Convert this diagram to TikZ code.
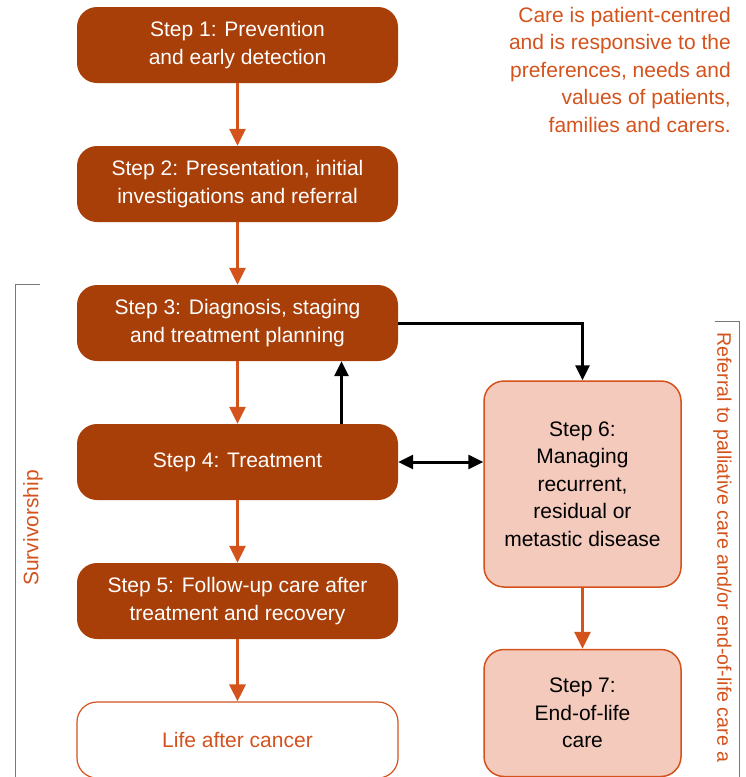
\documentclass[tikz,border=0pt]{standalone}
\usepackage{fontspec}
\setmainfont{Liberation Sans}
\usepackage{tikz}
\usetikzlibrary{arrows.meta}

\definecolor{stepdark}{RGB}{168,62,8}
\definecolor{careorange}{RGB}{212,82,28}
\definecolor{steplight}{RGB}{243,202,188}
\definecolor{bracketgray}{RGB}{120,120,120}

\tikzset{
    stepbox/.style={rounded corners=20pt, fill=stepdark, text=white, minimum width=321pt, minimum height=76pt, inner sep=0pt, align=center, font=\fontsize{21}{28}\selectfont},
    lifebox/.style={stepbox, fill=white, draw=careorange, line width=1.2pt, text=careorange},
    sidebox/.style={rounded corners=20pt, fill=steplight, draw=careorange, line width=1.5pt, minimum width=197pt, inner sep=0pt, align=center, font=\fontsize{21}{27.5}\selectfont},
    flow/.style={careorange, line width=3pt, -{Triangle[length=17pt, width=16pt]}},
    link/.style={black, line width=3pt, -{Triangle[length=15pt, width=14pt]}},
    sidenote/.style={text=careorange, font=\fontsize{21}{27.5}\selectfont, inner sep=0pt}
}

\begin{document}
\begin{tikzpicture}[x=1pt, y=-1pt]
    \useasboundingbox (0,0) rectangle (745,777);

    \node[stepbox] (s1) at (237.5,45) {Step 1: Prevention\\and early detection};
    
    \node[stepbox] (s2) at (237.5,184) {Step 2: Presentation, initial\\investigations and referral};
    
    \node[stepbox] (s3) at (237.5,323) {Step 3: Diagnosis, staging\\and treatment planning};
    
    \node[stepbox] (s4) at (237.5,462) {Step 4: Treatment};
    
    \node[stepbox] (s5) at (237.5,601) {Step 5: Follow-up care after\\treatment and recovery};
    
    \node[lifebox] (life) at (237.5,740) {Life after cancer};
    
    \node[sidebox, minimum height=206pt] (s6) at (582.5,484) {Step 6:\\Managing\\recurrent,\\residual or\\metastic disease};
    
    \node[sidebox, minimum height=127pt] (s7) at (582.5,713) {Step 7:\\End-of-life\\care};

    % orange flow
    \draw[flow] (s1) -- (s2);
    \draw[flow] (s2) -- (s3);
    \draw[flow] (s3) -- (s4);
    \draw[flow] (s4) -- (s5);
    \draw[flow] (s5) -- (life);
    \draw[flow] (s6) -- (s7);

    % black links
    \draw[link] (s3.east) -| (s6.north);
    \draw[link] ([xshift=104pt]s4.north) -- ([xshift=104pt]s3.south);
    \draw[link, {Triangle[length=15pt, width=14pt]}-{Triangle[length=15pt, width=14pt]}] (s4.east) -- (s4.east -| s6.west);

    % notes and brackets
    \node[sidenote, anchor=north east, align=right] (care) at (731,7) {Care is patient-centred\\and is responsive to the\\preferences, needs and\\values of patients,\\families and carers.};
    
    \draw[bracketgray, line width=1pt] (40,284) -- (15,284) -- (15,777);
    \node[sidenote, rotate=90] (surv) at (33,528) {Survivorship};
    
    \draw[bracketgray, line width=1pt] (715,321) -- (739,321) -- (739,777);
    \node[sidenote, rotate=-90, anchor=south west, font=\fontsize{19.6}{24}\selectfont] (pall) at (713,332) {Referral to palliative care and/or end-of-life care a};
\end{tikzpicture}
\end{document}
